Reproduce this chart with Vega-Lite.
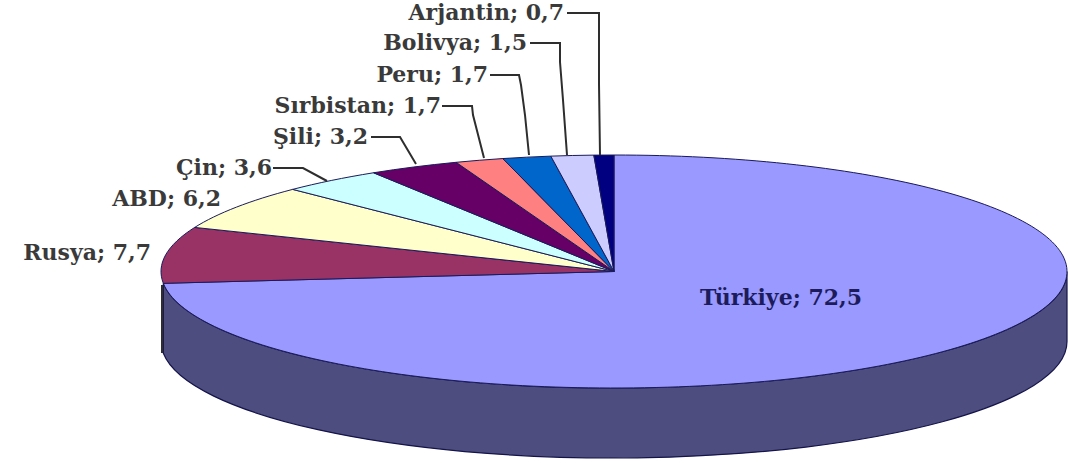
{
  "$schema": "https://vega.github.io/schema/vega-lite/v6.json",
  "width": 1070,
  "height": 463,
  "padding": 0,
  "autosize": {"type": "fit", "contains": "padding"},
  "background": "#ffffff",
  "config": {"view": {"stroke": null}},
  "datasets": {
    "slices": [
      {"name": "Türkiye", "value": 72.5, "label": "Türkiye; 72,5", "labelX": 862, "labelY": 298},
      {"name": "Rusya", "value": 7.7, "label": "Rusya; 7,7", "labelX": 151, "labelY": 253},
      {"name": "ABD", "value": 6.2, "label": "ABD; 6,2", "labelX": 221, "labelY": 199},
      {"name": "Çin", "value": 3.6, "label": "Çin; 3,6", "labelX": 272, "labelY": 168},
      {"name": "Şili", "value": 3.2, "label": "Şili; 3,2", "labelX": 368, "labelY": 137},
      {"name": "Sırbistan", "value": 1.7, "label": "Sırbistan; 1,7", "labelX": 441, "labelY": 106},
      {"name": "Peru", "value": 1.7, "label": "Peru; 1,7", "labelX": 488, "labelY": 75},
      {"name": "Bolivya", "value": 1.5, "label": "Bolivya; 1,5", "labelX": 527, "labelY": 43},
      {"name": "Arjantin", "value": 0.7, "label": "Arjantin; 0,7", "labelX": 564, "labelY": 13}
    ],
    "leaders": [
      {"to": "Arjantin", "step": 0, "x": 567, "y": 13},
      {"to": "Arjantin", "step": 1, "x": 599, "y": 13},
      {"to": "Arjantin", "step": 2, "x": 599, "y": 84},
      {"to": "Arjantin", "step": 3, "x": 600, "y": 155},
      {"to": "Bolivya", "step": 0, "x": 530, "y": 43},
      {"to": "Bolivya", "step": 1, "x": 560, "y": 43},
      {"to": "Bolivya", "step": 2, "x": 560, "y": 62},
      {"to": "Bolivya", "step": 3, "x": 563, "y": 100},
      {"to": "Bolivya", "step": 4, "x": 567, "y": 155},
      {"to": "Peru", "step": 0, "x": 490, "y": 75},
      {"to": "Peru", "step": 1, "x": 519, "y": 75},
      {"to": "Peru", "step": 2, "x": 521, "y": 85},
      {"to": "Peru", "step": 3, "x": 525, "y": 115},
      {"to": "Peru", "step": 4, "x": 529, "y": 155},
      {"to": "Sırbistan", "step": 0, "x": 442, "y": 106},
      {"to": "Sırbistan", "step": 1, "x": 472, "y": 106},
      {"to": "Sırbistan", "step": 2, "x": 473, "y": 115},
      {"to": "Sırbistan", "step": 3, "x": 484, "y": 158},
      {"to": "Şili", "step": 0, "x": 371, "y": 137},
      {"to": "Şili", "step": 1, "x": 400, "y": 137},
      {"to": "Şili", "step": 2, "x": 416, "y": 164},
      {"to": "Çin", "step": 0, "x": 273, "y": 168},
      {"to": "Çin", "step": 1, "x": 303, "y": 168},
      {"to": "Çin", "step": 2, "x": 327, "y": 181},
      {"to": "left edge", "step": 0, "x": 162, "y": 285},
      {"to": "left edge", "step": 1, "x": 162, "y": 353}
    ]
  },
  "data": {"name": "slices"},
  "resolve": {"scale": {"x": "shared", "y": "shared"}},
  "layer": [
    {
      "description": "Side wall of the disc, shown below the Türkiye slice",
      "transform": [{"filter": "datum.name === 'Türkiye'"}],
      "mark": {
        "type": "point",
        "filled": true,
        "opacity": 1,
        "size": 4,
        "fill": "#4d4d80",
        "stroke": "#14144a",
        "strokeWidth": 1.2,
        "shape": "M-450.66 11.83A453 116.5 0 0 0 453 0L453 70A453 116.5 0 0 1 -450.66 81.83Z"
      },
      "encoding": {
        "x": {"datum": 614, "type": "quantitative", "scale": {"domain": [0, 1070], "nice": false, "zero": false}, "axis": null},
        "y": {"datum": 271.5, "type": "quantitative", "scale": {"domain": [0, 463], "reverse": true, "nice": false, "zero": false}, "axis": null}
      }
    },
    {
      "description": "Top face: each slice path spans the elliptical angle given by its value",
      "mark": {"type": "point", "filled": true, "opacity": 1, "size": 4, "stroke": "#1a1a5a", "strokeWidth": 1},
      "encoding": {
        "x": {"datum": 614, "type": "quantitative", "scale": {"domain": [0, 1070], "nice": false, "zero": false}, "axis": null},
        "y": {"datum": 271.5, "type": "quantitative", "scale": {"domain": [0, 463], "reverse": true, "nice": false, "zero": false}, "axis": null},
        "color": {
          "field": "name",
          "type": "nominal",
          "legend": null,
          "scale": {
            "domain": ["Türkiye", "Rusya", "ABD", "Çin", "Şili", "Sırbistan", "Peru", "Bolivya", "Arjantin"],
            "range": ["#9999ff", "#993366", "#ffffcc", "#ccffff", "#660066", "#ff8080", "#0066cc", "#ccccff", "#000080"]
          }
        },
        "shape": {
          "field": "name",
          "type": "nominal",
          "legend": null,
          "scale": {
            "domain": ["Türkiye", "Rusya", "ABD", "Çin", "Şili", "Sırbistan", "Peru", "Bolivya", "Arjantin"],
            "range": [
              "M0 0L0 -116.5A453 116.5 0 1 1 -450.66 11.83Z",
              "M0 0L-419.34 -44.07A453 116.5 0 0 0 -450.66 11.83Z",
              "M0 0L-321.34 -82.11A453 116.5 0 0 0 -419.34 -44.07Z",
              "M0 0L-240.48 -98.73A453 116.5 0 0 0 -321.34 -82.11Z",
              "M0 0L-157.93 -109.19A453 116.5 0 0 0 -240.48 -98.73Z",
              "M0 0L-111.21 -112.94A453 116.5 0 0 0 -157.93 -109.19Z",
              "M0 0L-63.17 -115.36A453 116.5 0 0 0 -111.21 -112.94Z",
              "M0 0L-20.16 -116.38A453 116.5 0 0 0 -63.17 -115.36Z",
              "M0 0L0 -116.5A453 116.5 0 0 0 -20.16 -116.38Z"
            ]
          }
        }
      }
    },
    {
      "description": "Leader lines from the small slices to their labels, plus the dark left edge of the wall",
      "data": {"name": "leaders"},
      "mark": {"type": "line", "color": "#2e2e2e", "strokeWidth": 2, "interpolate": "linear"},
      "encoding": {
        "x": {"field": "x", "type": "quantitative", "scale": {"domain": [0, 1070], "nice": false, "zero": false}, "axis": null},
        "y": {"field": "y", "type": "quantitative", "scale": {"domain": [0, 463], "reverse": true, "nice": false, "zero": false}, "axis": null},
        "detail": {"field": "to"},
        "order": {"field": "step", "type": "quantitative"}
      }
    },
    {
      "description": "Name and value labels",
      "mark": {"type": "text", "font": "DejaVu Serif", "fontWeight": "bold", "fontSize": 22, "align": "right", "baseline": "middle"},
      "encoding": {
        "x": {"field": "labelX", "type": "quantitative", "scale": {"domain": [0, 1070], "nice": false, "zero": false}, "axis": null},
        "y": {"field": "labelY", "type": "quantitative", "scale": {"domain": [0, 463], "reverse": true, "nice": false, "zero": false}, "axis": null},
        "text": {"field": "label"},
        "color": {
          "condition": {"test": "datum.name === 'Türkiye'", "value": "#1c1c5c"},
          "value": "#3a3a3a"
        }
      }
    }
  ]
}
